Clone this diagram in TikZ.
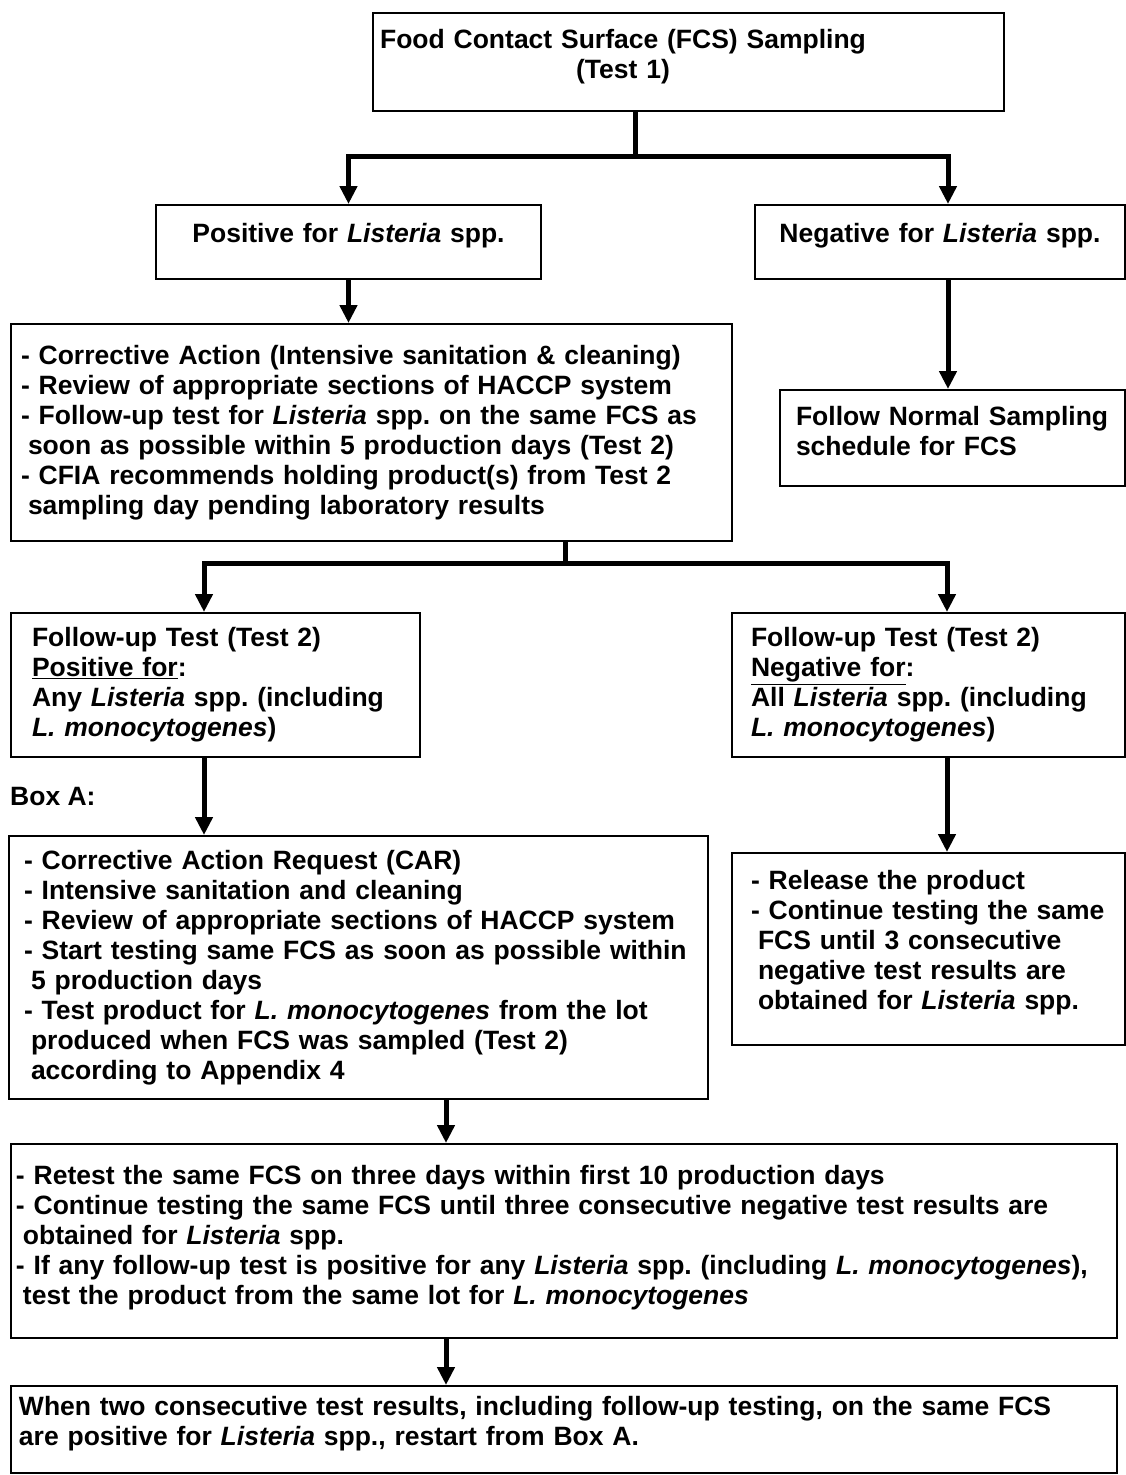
\documentclass[tikz,border=0pt]{standalone}
\usepackage{fontspec}
\setmainfont{Liberation Sans}
\usepackage{tikz}
\usetikzlibrary{arrows.meta,positioning,calc}
\frenchspacing
\newcommand{\padbottom}[1]{\rule[-#1]{0pt}{#1}}

\begin{document}
\begin{tikzpicture}[x=1pt, y=-1pt, font=\fontsize{26.5}{30}\selectfont\bfseries]
    \tikzset{
        box/.style={draw, line width=2pt, anchor=north west, align=left, inner ysep=0pt},
        flow/.style={line width=5pt, -{Triangle[length=18pt, width=17pt]}},
        trunk/.style={line width=5pt},
    }
    \useasboundingbox (0,0) rectangle (1125,1475);

    % ---- FIRST TEST ----
    \node[box, text width=611pt, inner xsep=10pt, minimum height=98pt] (top) at (372,12)
        {\makebox[480pt]{Food Contact Surface (FCS) Sampling}\\ \makebox[480pt]{(Test 1)}\padbottom{16pt}};

    \node[box, align=center, text width=365pt, inner xsep=10pt, minimum height=74pt] (pos) at (155,204)
        {Positive for \textit{Listeria} spp.\padbottom{18pt}};
    \node[box, align=center, text width=350pt, inner xsep=10pt, minimum height=74pt] (neg) at (754,204)
        {Negative for \textit{Listeria} spp.\padbottom{18pt}};

    \coordinate (splitA) at (635,156);
    \draw[trunk] (top.south -| splitA) -- (splitA);
    \draw[flow] (splitA) -| (pos.north);
    \draw[flow] (splitA) -| ([xshift=8pt]neg.north);

    % ---- CORRECTIVE ACTION ----
    \node[box, text width=701pt, inner xsep=10pt, minimum height=217pt] (corr) at (10,323)
        {- Corrective Action (Intensive sanitation \& cleaning)\\
         - Review of appropriate sections of HACCP system\\
         - Follow-up test for \textit{Listeria} spp. on the same FCS as\\
         \hspace*{7pt}soon as possible within 5 production days (Test 2)\\
         - CFIA recommends holding product(s) from Test 2\\
         \hspace*{7pt}sampling day pending laboratory results};
    \node[box, text width=313pt, inner xsep=16pt, minimum height=96pt] (normal) at (779,389)
        {Follow Normal Sampling\\ schedule for FCS\padbottom{14pt}};

    \draw[flow] (pos.south) -- (pos.south |- corr.north);
    \draw[flow] ([xshift=8pt]neg.south) -- ([xshift=8pt]neg.south |- normal.north);

    % ---- FOLLOW-UP TEST ----
    \node[box, text width=367pt, inner xsep=21pt, minimum height=144pt] (fpos) at (10,612)
        {Follow-up Test (Test 2)\\ \underline{Positive for}:\\
         Any \textit{Listeria} spp. (including\\ \textit{L. monocytogenes})};
    \node[box, text width=355pt, inner xsep=19pt, minimum height=144pt] (fneg) at (731,612)
        {Follow-up Test (Test 2)\\ \underline{Negative for}:\\
         All \textit{Listeria} spp. (including\\ \textit{L. monocytogenes})};

    \coordinate (splitB) at (565,563);
    \draw[trunk] (corr.south -| splitB) -- (splitB);
    \draw[flow] (splitB) -| ([xshift=-11.5pt]fpos.north);
    \draw[flow] (splitB) -| ([xshift=18.5pt]fneg.north);

    % ---- BOX A ----
    \node[anchor=west, inner sep=0pt] (boxAlabel) at (10,797) {Box A:};
    \node[box, text width=669pt, inner xsep=15pt, minimum height=263pt] (boxA) at (8,835)
        {- Corrective Action Request (CAR)\\
         - Intensive sanitation and cleaning\\
         - Review of appropriate sections of HACCP system\\
         - Start testing same FCS as soon as possible within\\
         \hspace*{7pt}5 production days\\
         - Test product for \textit{L. monocytogenes} from the lot\\
         \hspace*{7pt}produced when FCS was sampled (Test 2)\\
         \hspace*{7pt}according to Appendix 4};
    \node[box, text width=355pt, inner xsep=19pt, minimum height=192pt] (release) at (731,852)
        {- Release the product\\
         - Continue testing the same\\
         \hspace*{7pt}FCS until 3 consecutive\\
         \hspace*{7pt}negative test results are\\
         \hspace*{7pt}obtained for \textit{Listeria} spp.\padbottom{18pt}};

    \draw[flow] ([xshift=-11.5pt]fpos.south) -- ([xshift=-11.5pt]fpos.south |- boxA.north);
    \draw[flow] ([xshift=18.5pt]fneg.south) -- ([xshift=18.5pt]fneg.south |- release.north);

    % ---- RETEST ----
    \node[box, text width=1096pt, inner xsep=5pt, minimum height=194pt] (retest) at (10,1143)
        {- Retest the same FCS on three days within first 10 production days\\
         - Continue testing the same FCS until three consecutive negative test results are\\
         \hspace*{7pt}obtained for \textit{Listeria} spp.\\
         - If any follow-up test is positive for any \textit{Listeria} spp. (including \textit{L. monocytogenes}),\\
         \hspace*{7pt}test the product from the same lot for \textit{L. monocytogenes}\padbottom{12pt}};
    \node[box, text width=1090pt, inner xsep=8pt, minimum height=87pt] (final) at (10,1385)
        {When two consecutive test results, including follow-up testing, on the same FCS\\
         are positive for \textit{Listeria} spp., restart from Box A.\padbottom{18pt}};

    \draw[flow] ([xshift=87.5pt]boxA.south) -- ([xshift=87.5pt]boxA.south |- retest.north);
    \draw[flow] ([xshift=-118pt]retest.south) -- ([xshift=-118pt]retest.south |- final.north);

\end{tikzpicture}
\end{document}
